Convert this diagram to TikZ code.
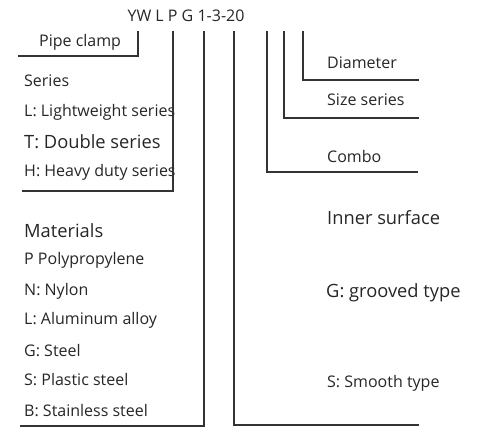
\documentclass[tikz,border=0pt]{standalone}
\usepackage{fontspec}
\setmainfont{Open Sans}
\begin{document}
\begin{tikzpicture}[x=1pt,y=-1pt]
	\tikzstyle{item}=[anchor=west,inner sep=0pt,text=black!85,font=\fontsize{16}{18}\selectfont]
	\tikzstyle{bigitem}=[item,font=\fontsize{18.3}{21}\selectfont]
	\tikzstyle{leg}=[line width=1.1pt,black!80]
	\useasboundingbox (0,0) rectangle (479,442);
	\node[item,anchor=center] (code) at (186,16) {YW L P G 1-3-20};
	\node[item] (clamp) at (39,42) {Pipe clamp};
	% left column
	\node[item] (series) at (24,81) {Series};
	\node[item] (light) at (24,112) {L: Lightweight series};
	\node[bigitem] (double) at (24,142) {T: Double series};
	\node[item] (heavy) at (24,172) {H: Heavy duty series};
	\node[bigitem] (materials) at (24,231) {Materials};
	\foreach \n/\y/\t in {pp/260/P Polypropylene, nylon/291/N: Nylon, alu/320/L: Aluminum alloy,
		steel/351/G: Steel, plastic/380/S: Plastic steel, stainless/411/B: Stainless steel}{
		\node[item] (\n) at (24,\y) {\t};
	}
	% right column
	\node[item] (diameter) at (327,63) {Diameter};
	\node[item] (size) at (327,100) {Size series};
	\node[item] (combo) at (327,156) {Combo};
	\node[bigitem] (inner) at (327,218) {Inner surface};
	\node[bigitem] (grooved) at (326,293) {G: grooved type};
	\node[item] (smooth) at (327,383) {S: Smooth type};
	% legs under the code
	\foreach \n/\x/\y/\e in {clamp/138/56/18, series/173/191/22, materials/204/426/20,
		inner/234/425/419, combo/267/172/418, size/284/118/419, diameter/303/80/419}{
		\coordinate (top_\n) at (\x,31);
		\coordinate (end_\n) at (\e,\y);
		\draw[leg] (top_\n) |- (end_\n);
	}
\end{tikzpicture}
\end{document}
